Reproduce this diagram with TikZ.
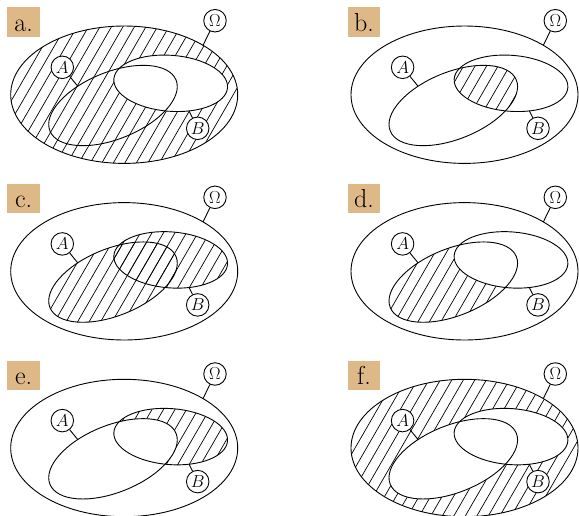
\documentclass[tikz,border=0pt]{standalone}
\definecolor{tagcol}{RGB}{222,184,135}
\newcommand{\vOm}{(124.2,-94.7) ellipse [x radius=113.5, y radius=68.7]}
\newcommand{\vA}{(113,-105.5) ellipse [x radius=68, y radius=33.5, rotate=22]}
\newcommand{\vB}{(170.7,-83.3) ellipse [x radius=57, y radius=28, rotate=-4.4]}
\newcommand{\hatchall}{\foreach \i in {-12,...,22} \draw[hatchline] (\i*11.5,-180) -- ++(60:215);}
\newcommand{\vpanel}[5]{%
\begin{scope}[shift={(#3,#4)}]
#5
\draw[outline] \vOm;
\draw[outline] \vA;
\draw[outline] \vB;
\node[tagbox] (#1-tag) at (23.7,-22) {#2.};
\node[lbl] (#1-O) at (215,-20.7) {$\Omega$};
\node[lbl] (#1-A) at (62.3,-67.3) {$A$};
\node[lbl] (#1-B) at (197.7,-128.3) {$B$};
\coordinate (#1-Oe) at ([shift={(124.2,-94.7)}]46:113.5 and 68.7);
\coordinate (#1-Ae) at ([shift={(113,-105.5)},rotate=22]112:68 and 33.5);
\coordinate (#1-Be) at ([shift={(170.7,-83.3)},rotate=-4.4]-69:57 and 28);
\draw[outline] (#1-O) -- (#1-Oe);
\draw[outline] (#1-A) -- (#1-Ae);
\draw[outline] (#1-B) -- (#1-Be);
\end{scope}}
\begin{document}
\begin{tikzpicture}[x=1pt,y=1pt,
  outline/.style={line width=0.9pt},
  hatchline/.style={line width=0.7pt},
  lbl/.style={circle, draw, fill=white, line width=0.9pt, minimum size=22.5pt, inner sep=0pt, font=\fontsize{16}{16}\selectfont},
  tagbox/.style={fill=tagcol, minimum width=32.7pt, minimum height=29.4pt, inner sep=0pt, text height=22pt, text depth=4pt, font=\fontsize{26}{26}\selectfont}]
\useasboundingbox (0,0) rectangle (579,-515);
% a: complement of B
\vpanel{a}{a}{0}{0}{%
  \begin{scope}\clip \vOm; \hatchall \end{scope}
  \fill[white] \vB;}
% b: A and B
\vpanel{b}{b}{340.3}{0}{%
  \begin{scope}\clip \vA; \clip \vB; \hatchall \end{scope}}
% c: A or B
\vpanel{c}{c}{0}{-176.6}{%
  \begin{scope}\clip \vA; \hatchall \end{scope}
  \begin{scope}\clip \vB; \hatchall \end{scope}}
% d: A minus B
\vpanel{d}{d}{340.3}{-176.6}{%
  \begin{scope}\clip \vA; \hatchall \end{scope}
  \fill[white] \vB;}
% e: B minus A
\vpanel{e}{e}{0}{-353.3}{%
  \begin{scope}\clip \vB; \hatchall \end{scope}
  \fill[white] \vA;}
% f: complement of A or B
\vpanel{f}{f}{340.3}{-353.3}{%
  \begin{scope}\clip \vOm; \hatchall \end{scope}
  \fill[white] \vA;
  \fill[white] \vB;}
\end{tikzpicture}
\end{document}
